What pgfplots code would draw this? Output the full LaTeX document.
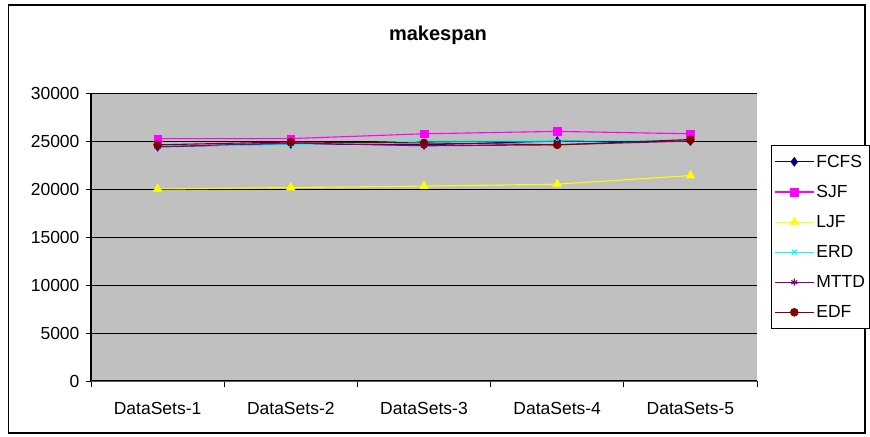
\documentclass[border=0pt]{standalone}
\usepackage{pgfplots}
\pgfplotsset{compat=1.18}
\usepackage{fontspec}
\setmainfont{Liberation Sans}
\usetikzlibrary{plotmarks}
\definecolor{cFCFS}{HTML}{000080}
\definecolor{cSJF}{HTML}{FF00FF}
\definecolor{cLJF}{HTML}{FFFF00}
\definecolor{cERD}{HTML}{00FFFF}
\definecolor{cMTTD}{HTML}{800080}
\definecolor{cEDF}{HTML}{800000}
\definecolor{plotgray}{HTML}{C0C0C0}
\begin{document}
\begin{tikzpicture}
\begin{axis}[
  scale only axis,
  width=666pt, height=288pt,
  xmin=0.5, xmax=5.5,
  ymin=0, ymax=30000,
  xtick={1,2,3,4,5},
  xticklabels={DataSets-1,DataSets-2,DataSets-3,DataSets-4,DataSets-5},
  minor xtick={0.5,1.5,2.5,3.5,4.5,5.5},
  ytick={0,5000,10000,15000,20000,25000,30000},
  scaled ticks=false,
  /pgf/number format/1000 sep={},
  /pgf/number format/assume math mode=true,
  tick label style={font=\fontsize{17.5}{21}\selectfont},
  tick align=outside,
  tick pos=left,
  major tick length=5pt,
  minor tick length=6pt,
  xtick style={draw=none},
  minor x tick style={draw=black, line width=0.9pt},
  ytick style={draw=black, line width=0.9pt},
  xticklabel style={anchor=center, yshift=-22pt},
  yticklabel style={xshift=-3pt},
  ymajorgrids,
  major grid style={black, line width=0.9pt},
  axis background/.style={fill=plotgray},
  axis line style={draw=gray!70!black, line width=0.9pt},
  axis x line*=bottom,
  axis y line*=left,
  clip=false,
  legend style={
    at={(1.0207,0.8194)}, anchor=north west,
    draw=black, fill=white, line width=0.9pt,
    font=\fontsize{17.5}{21}\selectfont,
    row sep=12.5pt, inner xsep=3pt, inner ysep=7.5pt,
    cells={anchor=west},
  },
  legend cell align=left,
  legend image code/.code={%
    \draw[#1,mark repeat=2,mark phase=2] plot coordinates {(0pt,0pt) (19.5pt,0pt) (39pt,0pt)};},
  every axis plot/.append style={line width=1.1pt},
]
\addplot[color=cFCFS, draw=cFCFS, mark=diamond*, mark size=4.5pt, mark options={solid, fill=cFCFS, draw=cFCFS, line width=0.5pt}]
  coordinates {(1,24400) (2,24700) (3,24600) (4,25000) (5,25000)};
\addlegendentry{FCFS}
\addplot[color=cSJF, draw=cSJF, mark=square*, mark size=3.8pt, mark options={solid, fill=cSJF, draw=cSJF, line width=0.5pt}]
  coordinates {(1,25250) (2,25250) (3,25750) (4,26000) (5,25750)};
\addlegendentry{SJF}
\addplot[color=cLJF, draw=cLJF, mark=triangle*, mark size=5pt, mark options={solid, fill=cLJF, draw=cLJF, line width=0.5pt}]
  coordinates {(1,20000) (2,20150) (3,20300) (4,20500) (5,21400)};
\addlegendentry{LJF}
\addplot[color=cERD, draw=cERD, mark=x, mark size=3.5pt, mark options={solid, draw=cERD, line width=1.1pt}]
  coordinates {(1,24500) (2,24600) (3,25000) (4,25000) (5,25100)};
\addlegendentry{ERD}
\addplot[color=cMTTD, draw=cMTTD, mark=asterisk, mark size=3.5pt, mark options={solid, draw=cMTTD, line width=1.1pt}]
  coordinates {(1,24400) (2,24800) (3,24500) (4,24600) (5,25000)};
\addlegendentry{MTTD}
\addplot[color=cEDF, draw=cEDF, mark=*, mark size=4pt, mark options={solid, fill=cEDF, draw=cEDF, line width=0.5pt}]
  coordinates {(1,24600) (2,24900) (3,24800) (4,24600) (5,25150)};
\addlegendentry{EDF}
% left and bottom axis lines black
\draw[black, line width=1pt] (rel axis cs:0,0) -- (rel axis cs:1,0);
\draw[black, line width=1pt] (rel axis cs:0,0) -- (rel axis cs:0,1);
% title
\node[font=\bfseries\fontsize{20}{24}\selectfont] at ([yshift=58pt]rel axis cs:0.521,1) {makespan};
% outer frame
\draw[black, line width=1.2pt] ([shift={(-82.5pt,-52pt)}]rel axis cs:0,0) coordinate (FL) rectangle ([shift={(108pt,88pt)}]rel axis cs:1,1) coordinate (FR);
\end{axis}
\pgfresetboundingbox
\useasboundingbox ([shift={(-8.5pt,-4pt)}]FL) rectangle ([shift={(5pt,5pt)}]FR);
\end{tikzpicture}
\end{document}
